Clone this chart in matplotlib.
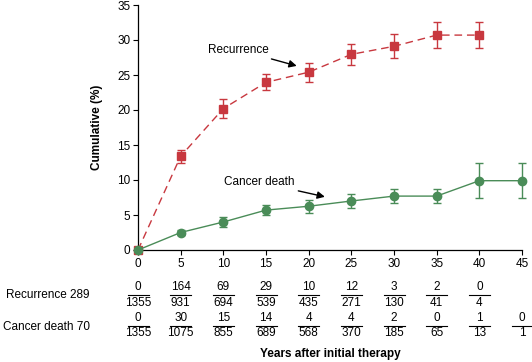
import matplotlib
matplotlib.use("Agg")
import matplotlib.pyplot as plt
import matplotlib.transforms as mtransforms

plt.rcParams['font.family'] = ['Liberation Sans', 'DejaVu Sans']

years = [0, 5, 10, 15, 20, 25, 30, 35, 40, 45]
rec_x = [0, 5, 10, 15, 20, 25, 30, 35, 40]
rec_y = [0, 13.4, 20.2, 23.95, 25.4, 27.95, 29.1, 30.7, 30.7]
rec_err = [0, 0.9, 1.35, 1.15, 1.35, 1.5, 1.7, 1.9, 1.9]
death_y = [0, 2.5, 4.0, 5.7, 6.25, 7.0, 7.7, 7.7, 9.9, 9.9]
death_err = [0, 0.4, 0.65, 0.7, 0.95, 0.95, 1.05, 1.05, 2.5, 2.5]

rec_events = ['0', '164', '69', '29', '10', '12', '3', '2', '0']
rec_risk = ['1355', '931', '694', '539', '435', '271', '130', '41', '4']
death_events = ['0', '30', '15', '14', '4', '4', '2', '0', '1', '0']
death_risk = ['1355', '1075', '855', '689', '568', '370', '185', '65', '13', '1']

red = '#c8383f'
green = '#4a8c58'

W, H = 532, 362
fig = plt.figure(figsize=(W / 100, H / 100), dpi=100)
ax = fig.add_axes([138 / W, 1 - 250 / H, (522 - 138) / W, (250 - 5) / H])

ax.errorbar(rec_x, rec_y, yerr=rec_err, color=red, ls=(0, (5.5, 3.5)), lw=1.0,
            marker='s', ms=5.5, capsize=3, elinewidth=1.0, capthick=1.0, zorder=3)
ax.errorbar(years, death_y, yerr=death_err, color=green, ls='-', lw=1.0,
            marker='o', ms=6, capsize=3, elinewidth=1.0, capthick=1.0, zorder=3)

ax.annotate('Recurrence', xy=(18.6, 26.3), xytext=(15.3, 28.6), fontsize=8.5,
            ha='right', va='center',
            arrowprops=dict(arrowstyle='-|>', color='black', lw=1.0,
                            mutation_scale=11, shrinkA=1, shrinkB=0))
ax.annotate('Cancer death', xy=(21.9, 7.6), xytext=(18.3, 9.7), fontsize=8.5,
            ha='right', va='center',
            arrowprops=dict(arrowstyle='-|>', color='black', lw=1.0,
                            mutation_scale=11, shrinkA=1, shrinkB=0))

ax.set_xlim(0, 45)
ax.set_ylim(0, 35)
ax.set_xticks(years)
ax.set_yticks(range(0, 36, 5))
ax.tick_params(labelsize=8.5, length=3.5, width=0.8, pad=2)
for s in ['top', 'right']:
    ax.spines[s].set_visible(False)
for s in ['left', 'bottom']:
    ax.spines[s].set_linewidth(0.9)
for l in ax.lines:
    l.set_clip_on(False)
for c in ax.collections:
    c.set_clip_on(False)

fig.text(97 / W, 1 - 127 / H, 'Cumulative (%)', rotation=90, ha='center',
         va='center', fontsize=8.5, fontweight='bold')

trans = mtransforms.blended_transform_factory(ax.transData, fig.transFigure)
half = 10.5 / (384 / 45)  # half line width in data units


def table_row(events, risk, y_num, y_line, y_den):
    for i, (e, r) in enumerate(zip(events, risk)):
        x = years[i]
        fig.text(x, 1 - y_num / H, e, transform=trans, ha='center', va='center', fontsize=8.5)
        fig.text(x, 1 - y_den / H, r, transform=trans, ha='center', va='center', fontsize=8.5)
        fig.add_artist(plt.Line2D([x - half, x + half], [1 - y_line / H] * 2,
                                  transform=trans, color='black', lw=0.8))


table_row(rec_events, rec_risk, 287, 295, 302.5)
table_row(death_events, death_risk, 318, 325.5, 333)

fig.text(90 / W, 1 - 295 / H, 'Recurrence 289', ha='right', va='center', fontsize=8.5)
fig.text(90 / W, 1 - 326.5 / H, 'Cancer death 70', ha='right', va='center', fontsize=8.5)
fig.text(330 / W, 1 - 354 / H, 'Years after initial therapy', ha='center', va='center',
         fontsize=8.5, fontweight='bold')

fig.savefig('out.png', dpi=100)
